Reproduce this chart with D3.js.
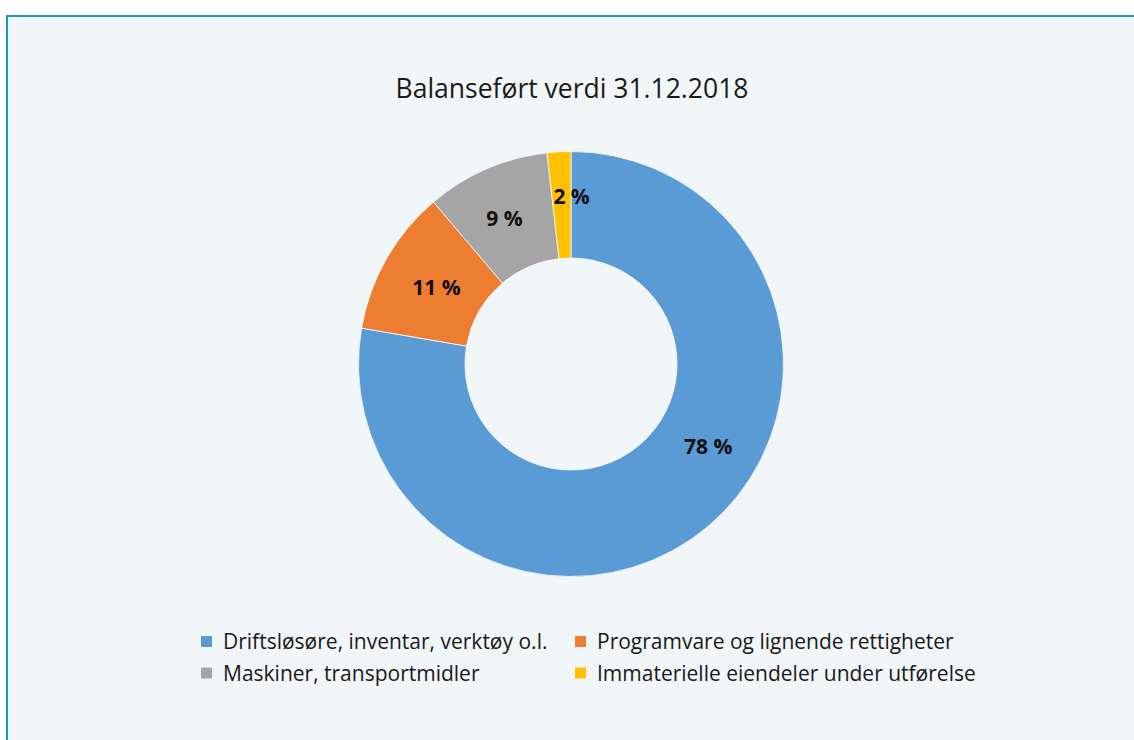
<!DOCTYPE html>
<html>
<head>
<meta charset="utf-8">
<script src="https://cdn.jsdelivr.net/npm/d3@7"></script>
<style>
  html, body { margin: 0; padding: 0; background: #fff; }
  svg { display: block; font-family: "Open Sans", sans-serif; }
</style>
</head>
<body>
<script>
const categories = [
  'Driftsløsøre, inventar, verktøy o.l.',
  'Programvare og lignende rettigheter',
  'Maskiner, transportmidler',
  'Immaterielle eiendeler under utførelse'
]
const values = [77.7, 11.1, 9.4, 1.8]
const labels = ['78 %', '11 %', '9 %', '2 %']
const title = 'Balanseført verdi 31.12.2018'

const w = 1134
const h = 740
const cx = 571
const cy = 364
const outerR = 212.5
const innerR = 106

// label placement tweaks (angle shift in radians, radius) — mimics Excel best fit
const labelAngleShift = [-0.33, 0, -0.02, 0.06]
const labelRadius = [160, 155, 160, 168]

const color = d3.scaleOrdinal()
  .domain(categories)
  .range(['#5b9bd5', '#ed7d31', '#a5a5a5', '#ffc000'])

const svg = d3.select('body')
  .append('svg')
  .attr('width', w)
  .attr('height', h)

svg.append('rect')
  .attr('x', 7)
  .attr('y', 16)
  .attr('width', w + 20)
  .attr('height', h + 20)
  .attr('fill', '#f1f6f9')
  .attr('stroke', '#1a9ab5')
  .attr('stroke-width', 2)

svg.append('text')
  .attr('x', cx + 1)
  .attr('y', 98)
  .attr('text-anchor', 'middle')
  .attr('font-size', 26.5)
  .attr('fill', '#1a1a1a')
  .text(title)

const pie = d3.pie().sort(null).value(d => d.value)
const arcs = pie(categories.map((c, i) => ({ name: c, value: values[i], label: labels[i] })))

const arc = d3.arc().innerRadius(innerR).outerRadius(outerR)

const g = svg.append('g').attr('transform', `translate(${cx},${cy})`)

g.selectAll('path')
  .data(arcs)
  .enter()
  .append('path')
  .attr('d', arc)
  .attr('fill', d => color(d.data.name))
  .attr('stroke', '#ffffff')
  .attr('stroke-width', 0.75)

g.selectAll('text.lbl')
  .data(arcs)
  .enter()
  .append('text')
  .attr('class', 'lbl')
  .attr('transform', (d, i) => {
    const a = (d.startAngle + d.endAngle) / 2 + labelAngleShift[i]
    const r = labelRadius[i]
    return `translate(${r * Math.sin(a)},${-r * Math.cos(a)})`
  })
  .attr('text-anchor', 'middle')
  .attr('dy', '0.36em')
  .attr('font-size', 21)
  .attr('font-weight', 'bold')
  .attr('fill', '#111')
  .text(d => d.data.label)

const legend = svg.selectAll('.legend')
  .data(categories)
  .enter()
  .append('g')
  .attr('class', 'legend')
  .attr('transform', (d, i) => {
    const col = i % 2
    const row = Math.floor(i / 2)
    return `translate(${201 + col * 374},${636 + row * 31.5})`
  })

legend.append('rect')
  .attr('width', 11)
  .attr('height', 11)
  .attr('fill', d => color(d))

legend.append('text')
  .attr('x', 22)
  .attr('y', 5.5)
  .attr('dy', '0.36em')
  .attr('font-size', 21)
  .attr('fill', '#1a1a1a')
  .text(d => d)
</script>
</body>
</html>
